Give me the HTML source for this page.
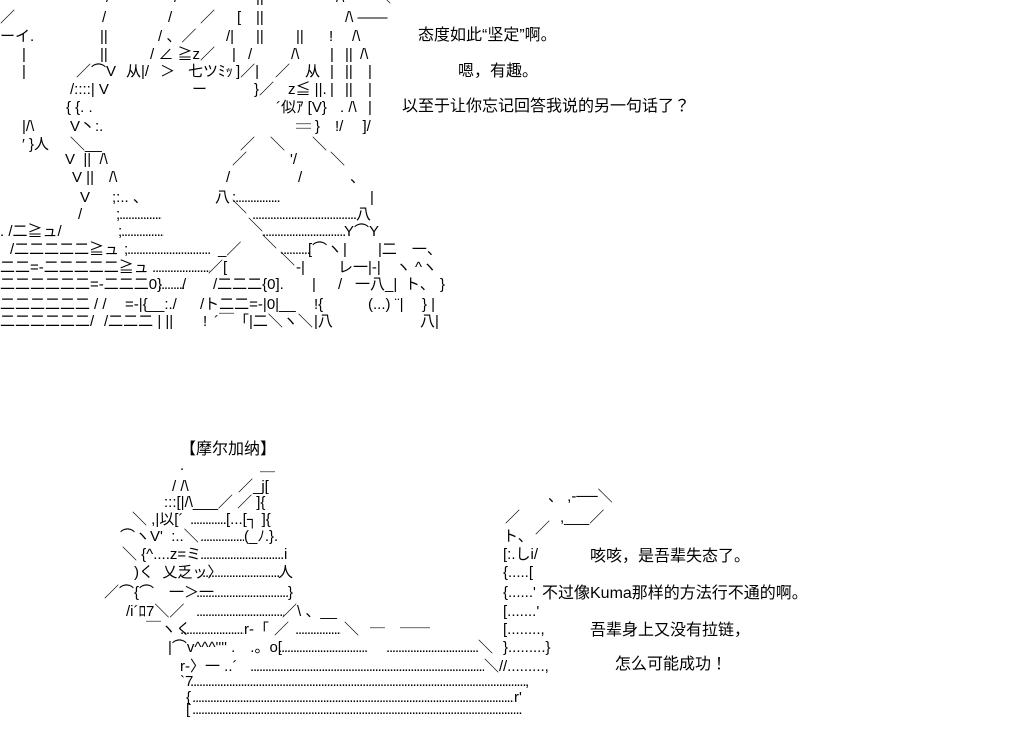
<!DOCTYPE html>
<html><head><meta charset="utf-8">
<style>
html,body{margin:0;padding:0;background:#fff;}
body{width:1022px;height:744px;position:relative;overflow:hidden;font-family:"Liberation Sans","Noto Sans CJK JP",sans-serif;font-size:15px;color:#000;}
span{position:absolute;white-space:pre;line-height:16px;}
.t{font-size:16px;line-height:18px;}
.d{overflow:hidden;letter-spacing:-1.2px;}
</style></head><body>
<!-- top art -->
<span style="left:106px;top:-10px">/</span><span style="left:174px;top:-10px">/</span><span style="left:256px;top:-10px">||</span><span style="left:336px;top:-10px">/\</span><span style="left:376px;top:-10px">＼</span>
<span style="left:0;top:10px">／</span><span style="left:102px;top:10px">/</span><span style="left:168px;top:10px">/</span><span style="left:200px;top:10px">／</span><span style="left:237px;top:10px">[</span><span style="left:256px;top:10px">||</span><span style="left:345px;top:10px">/\ ——</span>
<span style="left:0;top:29px">ーイ.</span><span style="left:100px;top:29px">||</span><span style="left:158px;top:29px">/ 、／</span><span style="left:226px;top:29px">/|</span><span style="left:256px;top:29px">||</span><span style="left:296px;top:29px">||</span><span style="left:329px;top:29px">!</span><span style="left:352px;top:29px">/\</span>
<span style="left:22px;top:47px">|</span><span style="left:100px;top:47px">||</span><span style="left:150px;top:47px">/ ∠ ≧z／</span><span style="left:232px;top:47px">|</span><span style="left:248px;top:47px">/</span><span style="left:291px;top:47px">/\</span><span style="left:330px;top:47px">|</span><span style="left:345px;top:47px">||</span><span style="left:360px;top:47px">/\</span>
<span style="left:22px;top:64px">|</span><span style="left:76px;top:64px">／⌒V</span><span style="left:126px;top:64px">从|/</span><span style="left:160px;top:64px">＞</span><span style="left:188px;top:64px">七ツﾐｯ</span><span style="left:236px;top:64px">]／|</span><span style="left:275px;top:64px">／</span><span style="left:305px;top:64px">从</span><span style="left:330px;top:64px">|</span><span style="left:345px;top:64px">||</span><span style="left:368px;top:64px">|</span>
<span style="left:70px;top:82px">/::::| V</span><span style="left:192px;top:82px">ー</span><span style="left:254px;top:82px">}／</span><span style="left:288px;top:82px">z≦ ||.</span><span style="left:330px;top:82px">|</span><span style="left:345px;top:82px">||</span><span style="left:368px;top:82px">|</span>
<span style="left:66px;top:100px">{ {. .</span><span style="left:276px;top:100px">´似ｱ [V}</span><span style="left:340px;top:100px">. /\</span><span style="left:368px;top:100px">|</span>
<span style="left:22px;top:119px">|/\</span><span style="left:70px;top:119px">V丶:.</span><span style="left:296px;top:110px">＿</span><span style="left:315px;top:119px">}　!/　 ]/</span>
<span style="left:22px;top:137px">′ }人</span><span style="left:70px;top:137px">＼__</span><span style="left:240px;top:137px">／</span><span style="left:270px;top:137px">＼</span><span style="left:296px;top:129px">￣</span><span style="left:312px;top:137px">＼</span>
<span style="left:65px;top:152px">V  ||  /\</span><span style="left:232px;top:152px">／</span><span style="left:290px;top:152px">'/</span><span style="left:330px;top:152px">＼</span>
<span style="left:72px;top:170px">V ||　/\</span><span style="left:226px;top:170px">/</span><span style="left:298px;top:170px">/</span><span style="left:350px;top:170px">、</span>
<span style="left:80px;top:190px">V</span><span style="left:112px;top:190px">;:.. 、</span><span style="left:215px;top:190px">八</span><span class="d" style="left:232px;top:190px;width:48px">:.........................</span><span style="left:370px;top:190px">|</span>
<span style="left:78px;top:207px">/</span><span class="d" style="left:116px;top:207px;width:46px">;...........................</span><span style="left:232px;top:200px">＼</span><span class="d" style="left:252px;top:207px;width:104px">.........................................................................</span><span style="left:356px;top:207px">八</span>
<span style="left:0;top:224px">. /二≧ュ/</span><span class="d" style="left:118px;top:224px;width:46px">;.........................</span><span style="left:248px;top:218px">＼</span><span class="d" style="left:262px;top:224px;width:84px">..............................................................</span><span style="left:344px;top:224px">Y⌒Y</span>
<span style="left:10px;top:242px">/二二二二二≧ュ</span><span class="d" style="left:124px;top:242px;width:86px">;..........................................................</span><span style="left:218px;top:242px">_／</span><span style="left:262px;top:235px">＼</span><span class="d" style="left:280px;top:242px;width:30px">.................</span><span style="left:308px;top:242px">[⌒ヽ</span><span style="left:343px;top:242px">|</span><span style="left:378px;top:242px">|二　一、</span>
<span style="left:0;top:260px">二二=-二二二二二≧ュ</span><span class="d" style="left:152px;top:260px;width:58px">........................................</span><span style="left:208px;top:260px">／[</span><span style="left:280px;top:252px">＼</span><span style="left:296px;top:260px">-|</span><span style="left:338px;top:260px">レ一|-|　ヽ ^ヽ</span>
<span style="left:0;top:277px">二二二二二二=-二二二0}</span><span class="d" style="left:158px;top:277px;width:26px">.....................</span><span style="left:182px;top:277px">/</span><span style="left:213px;top:277px">/二二二{0].</span><span style="left:312px;top:277px">|</span><span style="left:338px;top:277px">/</span><span style="left:355px;top:277px">一八_|</span><span style="left:405px;top:277px">ト、</span><span style="left:440px;top:277px">}</span>
<span style="left:0;top:297px">二二二二二二</span><span style="left:94px;top:297px">/ /</span><span style="left:125px;top:297px">=-|{__:./</span><span style="left:200px;top:297px">/ト二二=-|0|__</span><span style="left:314px;top:297px">!{</span><span style="left:368px;top:297px">(...) ¨|</span><span style="left:422px;top:297px">} |</span>
<span style="left:0;top:314px">二二二二二二/</span><span style="left:104px;top:314px">/二二二 | ||</span><span style="left:203px;top:314px">!</span><span style="left:214px;top:314px">´￣「|二＼ヽ＼</span><span style="left:314px;top:314px">|八</span><span style="left:420px;top:314px">八|</span>
<!-- top text -->
<span class="t" style="left:418px;top:27px">态度如此“坚定”啊。</span>
<span class="t" style="left:458px;top:63px">嗯，有趣。</span>
<span class="t" style="left:402px;top:98px">以至于让你忘记回答我说的另一句话了？</span>
<!-- bottom art -->
<span class="t" style="left:180px;top:441px">【摩尔加纳】</span>
<span style="left:180px;top:458px">.</span><span style="left:260px;top:458px">＿</span>
<span style="left:172px;top:479px">/ /\</span><span style="left:238px;top:479px">／_j[</span>
<span style="left:164px;top:495px">:::[|/\___／ ／ ]{</span>
<span style="left:132px;top:512px">＼ ,|以[´</span><span class="d" style="left:190px;top:512px;width:36px">.......................</span><span style="left:226px;top:512px">[...[┐ ]{</span>
<span style="left:120px;top:529px">⌒ヽV'  :..＼</span><span class="d" style="left:200px;top:529px;width:44px">...............................</span><span style="left:244px;top:529px">(_ﾉ.}.</span>
<span style="left:122px;top:547px">＼ {^....z=ミ</span><span class="d" style="left:200px;top:547px;width:84px">............................................................</span><span style="left:284px;top:547px">i</span>
<span style="left:134px;top:565px">)く  乂乏ッ〉</span><span class="d" style="left:202px;top:565px;width:78px">.......................................................</span><span style="left:278px;top:565px">人</span>
<span style="left:104px;top:585px">／⌒{⌒　一＞一</span><span class="d" style="left:196px;top:585px;width:92px">..................................................................</span><span style="left:288px;top:585px">}</span>
<span style="left:126px;top:604px">/i´ﾛ7＼／</span><span class="d" style="left:196px;top:604px;width:88px">..............................................................</span><span style="left:282px;top:604px">／\ 、__</span>
<span style="left:146px;top:622px">￣ヽく</span><span class="d" style="left:180px;top:622px;width:64px">..............................................</span><span style="left:244px;top:622px">r‐「</span><span style="left:274px;top:622px">／</span><span class="d" style="left:295px;top:622px;width:46px">.................................</span><span style="left:344px;top:622px">＼</span><span style="left:370px;top:614px">＿</span><span style="left:400px;top:614px">＿＿</span>
<span style="left:168px;top:640px">|⌒v^^^'''' .　.。o[</span><span class="d" style="left:278px;top:640px;width:90px">................................................................</span><span class="d" style="left:386px;top:640px;width:92px">..................................................................</span><span style="left:478px;top:640px">＼</span>
<span style="left:180px;top:659px">r-〉一 ..´</span><span class="d" style="left:250px;top:659px;width:234px">..............................................................................................................................................................................</span><span style="left:484px;top:659px">＼/</span>
<span style="left:180px;top:674px">`7</span><span class="d" style="left:190px;top:674px;width:336px">..................................................................................................................................................................................................................................................................</span><span style="left:525px;top:674px">,</span>
<span style="left:186px;top:690px">{</span><span class="d" style="left:192px;top:690px;width:322px">..................................................................................................................................................................................................................................................................</span><span style="left:514px;top:690px">r'</span>
<span style="left:186px;top:702px">[</span><span class="d" style="left:192px;top:702px;width:330px">..................................................................................................................................................................................................................................................................</span>
<span style="left:548px;top:489px">、 ,-──＼</span>
<span style="left:505px;top:510px">／</span><span style="left:560px;top:510px">,___／</span>
<span style="left:503px;top:529px">ト、</span><span style="left:535px;top:521px">／</span>
<span style="left:503px;top:547px">[:.しi/</span>
<span style="left:503px;top:565px">{.....[</span>
<span style="left:503px;top:585px">{......'</span>
<span style="left:503px;top:604px">[.......'</span>
<span style="left:503px;top:622px">[........,</span>
<span style="left:503px;top:640px">}.........}</span>
<span style="left:503px;top:659px">/.........,</span>
<!-- bottom text -->
<span class="t" style="left:590px;top:548px">咳咳，是吾辈失态了。</span>
<span class="t" style="left:542px;top:585px">不过像Kuma那样的方法行不通的啊。</span>
<span class="t" style="left:590px;top:622px">吾辈身上又没有拉链，</span>
<span class="t" style="left:615px;top:656px">怎么可能成功！</span>
</body></html>
